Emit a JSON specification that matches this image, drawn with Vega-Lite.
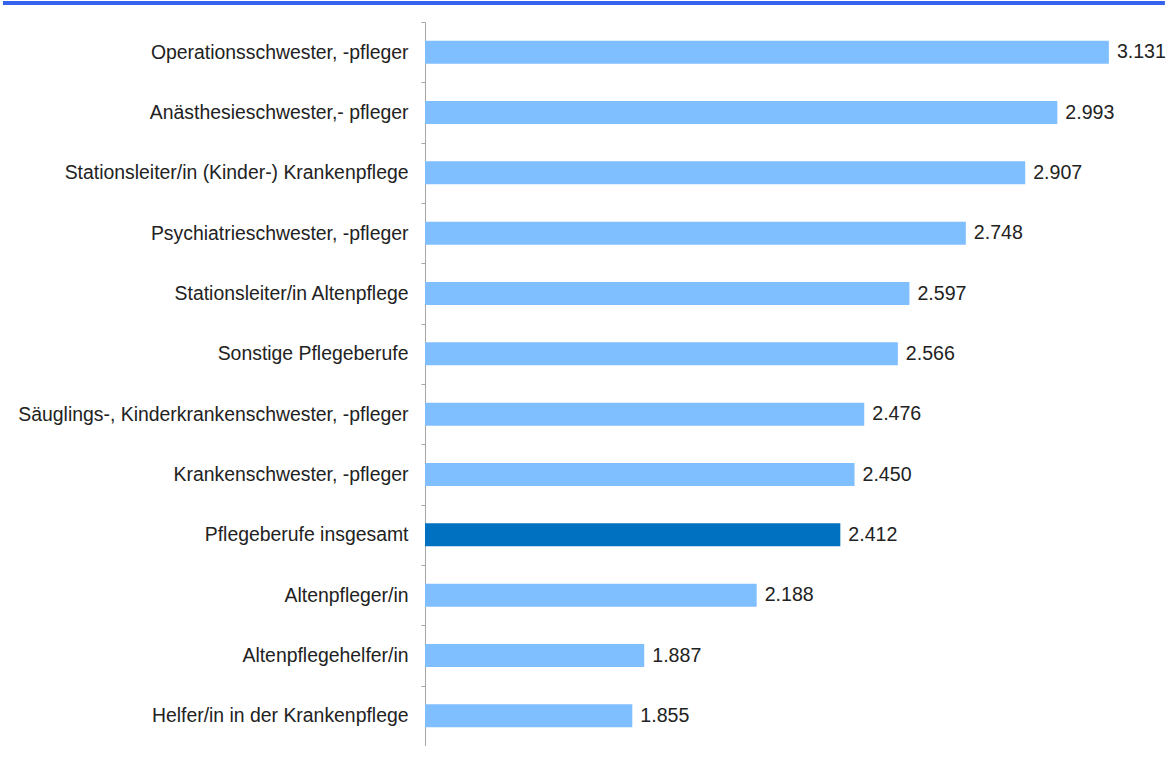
{
  "$schema": "https://vega.github.io/schema/vega-lite/v6.json",
  "autosize": "none",
  "width": 747,
  "height": 724,
  "padding": {"left": 425, "top": 22, "right": 0, "bottom": 0},
  "background": "white",
  "config": {"view": {"stroke": null}, "font": "Liberation Sans"},
  "data": {
    "values": [
      {"beruf": "Operationsschwester, -pfleger", "wert": 3131, "label": "3.131", "gesamt": "nein"},
      {"beruf": "Anästhesieschwester,- pfleger", "wert": 2993, "label": "2.993", "gesamt": "nein"},
      {"beruf": "Stationsleiter/in (Kinder-) Krankenpflege", "wert": 2907, "label": "2.907", "gesamt": "nein"},
      {"beruf": "Psychiatrieschwester, -pfleger", "wert": 2748, "label": "2.748", "gesamt": "nein"},
      {"beruf": "Stationsleiter/in Altenpflege", "wert": 2597, "label": "2.597", "gesamt": "nein"},
      {"beruf": "Sonstige Pflegeberufe", "wert": 2566, "label": "2.566", "gesamt": "nein"},
      {"beruf": "Säuglings-, Kinderkrankenschwester, -pfleger", "wert": 2476, "label": "2.476", "gesamt": "nein"},
      {"beruf": "Krankenschwester, -pfleger", "wert": 2450, "label": "2.450", "gesamt": "nein"},
      {"beruf": "Pflegeberufe insgesamt", "wert": 2412, "label": "2.412", "gesamt": "ja"},
      {"beruf": "Altenpfleger/in", "wert": 2188, "label": "2.188", "gesamt": "nein"},
      {"beruf": "Altenpflegehelfer/in", "wert": 1887, "label": "1.887", "gesamt": "nein"},
      {"beruf": "Helfer/in in der Krankenpflege", "wert": 1855, "label": "1.855", "gesamt": "nein"}
    ]
  },
  "encoding": {
    "y": {
      "field": "beruf",
      "type": "nominal",
      "sort": null,
      "title": null,
      "scale": {"paddingInner": 0, "paddingOuter": 0},
      "axis": {
        "tickBand": "extent",
        "domainColor": "#a6a6a6",
        "tickColor": "#a6a6a6",
        "tickSize": 4,
        "labelPadding": 13,
        "labelFontSize": 19.4,
        "labelColor": "#222222",
        "labelLimit": 425,
        "labelFont": "Liberation Sans"
      }
    },
    "x": {
      "field": "wert",
      "type": "quantitative",
      "scale": {"domain": [1300, 3300], "zero": false, "nice": false},
      "axis": null
    }
  },
  "layer": [
    {
      "mark": {"type": "bar", "clip": false, "height": {"band": 0.38}},
      "encoding": {
        "x": {"datum": 1300, "type": "quantitative"},
        "x2": {"field": "wert"},
        "color": {
          "field": "gesamt",
          "type": "nominal",
          "scale": {"domain": ["nein", "ja"], "range": ["#80BFFF", "#0070C0"]},
          "legend": null
        }
      }
    },
    {
      "mark": {"type": "text", "align": "left", "dx": 8, "fontSize": 19.6, "color": "#222222", "font": "Liberation Sans"},
      "encoding": {"text": {"field": "label"}}
    },
    {
      "data": {"values": [{"a": 170, "b": 3281}]},
      "mark": {"type": "rule", "strokeWidth": 4, "color": "#3563EE", "clip": false},
      "encoding": {
        "x": {"field": "a", "type": "quantitative"},
        "x2": {"field": "b"},
        "y": {"value": -19}
      }
    }
  ]
}
